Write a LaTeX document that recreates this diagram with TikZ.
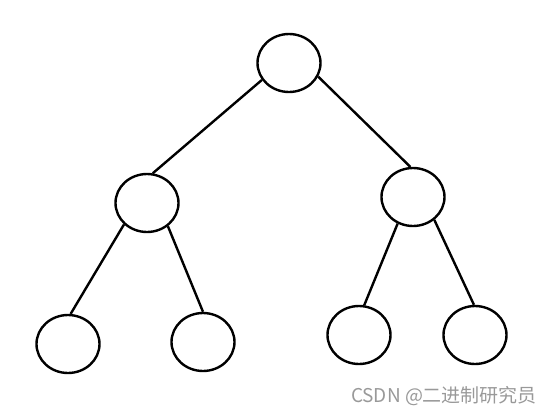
\documentclass[tikz,border=0pt]{standalone}
\usepackage{fontspec}
\newfontfamily\cjkfont{Noto Sans CJK SC}
\usetikzlibrary{shapes,positioning}

\begin{document}
\begin{tikzpicture}[x=1pt,y=-1pt,on grid,
    vertex/.style={ellipse,draw,line width=2.4pt,minimum width=63pt,minimum height=58pt,inner sep=0pt},
    link/.style={line width=2.4pt}]

   \useasboundingbox (0,0) rectangle (550,416);

   \node[vertex] (root) at (289,63) {};
   \node[vertex] (l_1) [below left=140pt and 142pt of root] {};
   \node[vertex] (r_1) [below right=134pt and 124pt of root] {};
   \node[vertex] (l_2) [below left=141pt and 79pt of l_1] {};
   \node[vertex] (l_3) [below right=139pt and 56pt of l_1] {};
   \node[vertex] (r_2) [below left=138pt and 54pt of r_1] {};
   \node[vertex] (r_3) [below right=138pt and 62pt of r_1] {};

    \path[link]
    (root.212) edge (l_1.79)
    (root.335) edge (r_1.95)
    (l_1.223) edge (l_2.85)
    (l_1.312) edge (l_3.90)
    (r_1.240) edge (r_2.80)
    (r_1.313) edge (r_3.92);

   \node[text=black!40,font=\cjkfont\fontsize{19}{22}\selectfont,inner sep=0pt] (mark) at (444,396) {CSDN @二进制研究员};
\end{tikzpicture}
\end{document}
